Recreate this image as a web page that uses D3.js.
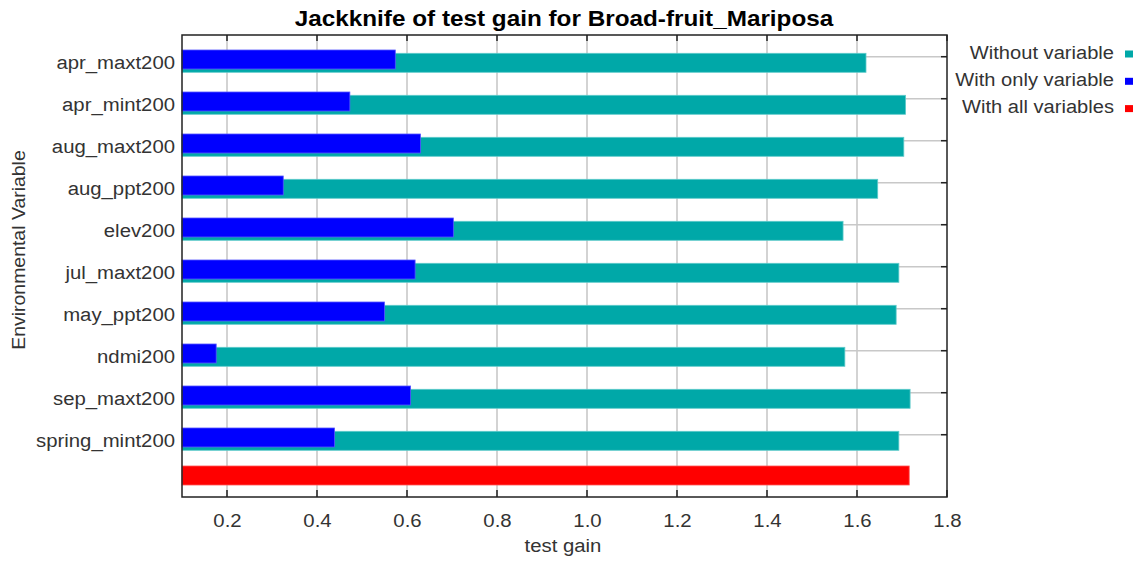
<!DOCTYPE html>
<html>
<head>
<meta charset="utf-8">
<script src="https://cdnjs.cloudflare.com/ajax/libs/d3/7.8.5/d3.min.js"></script>
<style>
html,body{margin:0;padding:0;background:#fff;}
svg{display:block;}
text{font-family:"Liberation Sans",Arial,sans-serif;fill:#333;}
</style>
</head>
<body>
<svg id="chart" width="1141" height="561"></svg>
<script>
const title = "Jackknife of test gain for Broad-fruit_Mariposa";
const categories = ["apr_maxt200","apr_mint200","aug_maxt200","aug_ppt200","elev200","jul_maxt200","may_ppt200","ndmi200","sep_maxt200","spring_mint200"];
const withoutVariable = [1.620,1.708,1.704,1.646,1.569,1.693,1.687,1.573,1.718,1.693];
const withOnlyVariable = [0.574,0.473,0.630,0.325,0.703,0.618,0.550,0.176,0.608,0.439];
const withAllVariables = [1.716];
const xTicks = [0.2,0.4,0.6,0.8,1.0,1.2,1.4,1.6,1.8];
const legendLabels = ["Without variable","With only variable","With all variables"];
const seriesColors = ["#00a8a8","#0000ff","#ff0000"];
const xLabel = "test gain";
const yLabel = "Environmental Variable";

const SX = 1.13; // horizontal glyph stretch of reference
const svg = d3.select("#chart");
const L = 182, R = 947, T = 35, B = 497;
const x = d3.scaleLinear().domain([0.1, 1.8]).range([L, R]);
const rows = [...categories, "__all"];
const y = d3.scaleBand().domain(rows).range([T, B]);

function stretchedText(g, X, Y, str, size, anchor, weight, sx) {
  const t = g.append("text")
    .attr("transform", `translate(${X},${Y}) scale(${sx || SX},1)`)
    .attr("text-anchor", anchor)
    .style("font-size", size + "px")
    .text(str);
  if (weight) t.style("font-weight", weight);
  return t;
}

// title
stretchedText(svg, 564, 26, title, 21.5, "middle", "bold").style("fill", "#000");

// gridlines
const grid = svg.append("g");
grid.selectAll("line.v").data(xTicks.filter(d => x(d) < R - 1)).join("line")
  .attr("x1", d => x(d)).attr("x2", d => x(d)).attr("y1", T).attr("y2", B)
  .attr("stroke", "#c8c8c8").attr("stroke-width", 1.6);
grid.selectAll("line.h").data(categories).join("line")
  .attr("x1", L).attr("x2", R)
  .attr("y1", d => y(d) + 21.7).attr("y2", d => y(d) + 21.7)
  .attr("stroke", "#c8c8c8").attr("stroke-width", 1.6);

// bars
const bars = svg.append("g");
bars.selectAll("rect.without").data(categories).join("rect")
  .attr("x", L).attr("y", d => y(d) + 18.3)
  .attr("width", (d, i) => x(withoutVariable[i]) - L).attr("height", 19)
  .attr("fill", seriesColors[0]).attr("stroke", "#5fcaca").attr("stroke-width", 0.8);
bars.selectAll("rect.only").data(categories).join("rect")
  .attr("x", L).attr("y", d => y(d) + 15)
  .attr("width", (d, i) => x(withOnlyVariable[i]) - L).attr("height", 19)
  .attr("fill", seriesColors[1]).attr("stroke", "#5555ff").attr("stroke-width", 0.8);
bars.selectAll("rect.all").data(withAllVariables).join("rect")
  .attr("x", L).attr("y", y("__all") + 11)
  .attr("width", d => x(d) - L).attr("height", 19)
  .attr("fill", seriesColors[2]).attr("stroke", "#ff5555").attr("stroke-width", 0.8);

// frame and ticks
const frame = svg.append("g").attr("stroke", "#222");
frame.append("rect").attr("x", L).attr("y", T).attr("width", R - L).attr("height", B - T)
  .attr("fill", "none").attr("stroke-width", 1.5);
frame.selectAll("line.tt").data(xTicks).join("line")
  .attr("x1", d => x(d)).attr("x2", d => x(d)).attr("y1", T).attr("y2", T + 6).attr("stroke-width", 1.5);
frame.selectAll("line.bt").data(xTicks).join("line")
  .attr("x1", d => x(d)).attr("x2", d => x(d)).attr("y1", B - 7).attr("y2", B).attr("stroke-width", 1.5);
frame.selectAll("line.rt").data(categories).join("line")
  .attr("x1", R - 6).attr("x2", R).attr("y1", d => y(d) + 21.7).attr("y2", d => y(d) + 21.7).attr("stroke-width", 1.5);

// x axis labels
const xa = svg.append("g").attr("transform", `translate(0,${B})`)
  .call(d3.axisBottom(x).tickValues(xTicks).tickFormat(d3.format(".1f")).tickSize(0));
xa.select(".domain").remove();
xa.selectAll(".tick text")
  .attr("y", 0).attr("dy", null)
  .attr("transform", `translate(0,30) scale(${SX},1)`)
  .style("font-size", "18px").style("font-family", "'Liberation Sans',Arial,sans-serif").attr("fill", "#333");
stretchedText(svg, 563, 552, xLabel, 18, "middle");

// y axis labels
const ya = svg.append("g").attr("transform", `translate(${L},0)`)
  .call(d3.axisLeft(y).tickValues(categories).tickSize(0));
ya.select(".domain").remove();
ya.selectAll(".tick")
  .attr("transform", d => `translate(0,${y(d)})`);
ya.selectAll(".tick text")
  .attr("x", 0).attr("y", 0).attr("dy", null)
  .attr("transform", `translate(-7,34) scale(${SX},1)`)
  .style("font-size", "18px").style("font-family", "'Liberation Sans',Arial,sans-serif").attr("fill", "#333");
svg.append("text")
  .attr("transform", "translate(25,250) rotate(-90) scale(1.08,1)")
  .attr("text-anchor", "middle")
  .style("font-size", "18px")
  .text(yLabel);

// legend
const lg = svg.append("g");
legendLabels.forEach((lab, i) => {
  const by = 58.5 + i * 27.3;
  stretchedText(lg, 1114, by, lab, 17.8, "end");
  lg.append("rect").attr("x", 1125).attr("y", by - 8).attr("width", 8).attr("height", 7)
    .attr("fill", seriesColors[i]);
});
</script>
</body>
</html>
